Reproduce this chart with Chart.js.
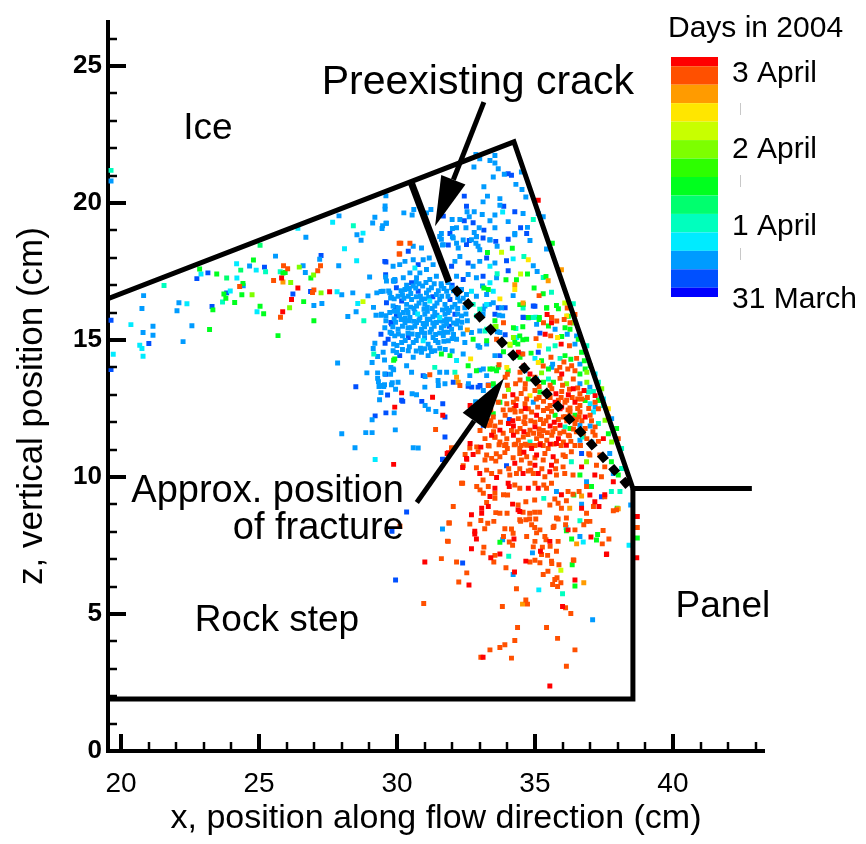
<!DOCTYPE html>
<html>
<head>
<meta charset="utf-8">
<title>Days in 2004</title>
<script src="https://cdn.jsdelivr.net/npm/chart.js@4.4.1/dist/chart.umd.min.js"></script>
<style>
  html, body { margin: 0; padding: 0; background: #fff; }
</style>
</head>
<body>
<canvas id="chart" width="866" height="844"></canvas>
<script>
// events: [x (cm), z (cm), colour level]  level 0 = 31 March ... 13 = 3 April
const iceSideEvents = [
  [19.64,21.19,4],[19.64,20.8,2],[29.6,20.26,2],[29.57,19.89,2],[29.57,19.77,2],[27.9,19.53,2],[27.67,19.3,3],[28.42,19.17,4],
  [29.2,19.48,2],[29.12,19.27,2],[29.6,19.26,2],[29.48,19.17,2],[28.55,18.84,2],[28.77,18.9,3],[28.7,18.64,2],[26.7,18.75,2],
  [26.41,19.08,3],[25.04,18.46,5],[28.1,18.33,3],[30.08,18.53,12],[30.08,18.14,12],[29.6,17.85,1],[28.54,17.89,3],[27.25,18.08,1],
  [27.2,17.95,2],[25.6,18.06,2],[24.8,17.92,6],[24.19,17.78,3],[24.66,17.7,2],[25.2,17.66,1],[24.9,17.55,3],[25.24,17.49,4],
  [24.34,17.55,5],[23.47,17.41,6],[23.83,17.26,5],[24.2,17.26,3],[23.15,17.45,1],[22.75,17.24,1],[22.9,17.41,3],[22.85,17.59,6],
  [25.89,17.71,12],[26.04,17.6,12],[25.77,17.49,4],[25.87,17.44,6],[25.95,17.46,6],[26.6,17.71,2],[26.46,17.66,8],[26.68,17.46,2],
  [27.23,17.71,12],[27.13,17.53,12],[26.98,17.37,8],[26.88,17.26,6],[27.89,17.71,2],[25.82,17.26,13],[25.53,17.17,12],[25.87,17.12,11],
  [26.15,17.1,8],[26.41,16.9,13],[24.42,17.06,6],[24.43,16.98,2],[24.3,16.95,12],[21.56,16.99,4],[23.96,16.79,3],[23.83,16.72,1],
  [23.73,16.68,6],[24.38,16.65,6],[24.75,16.65,8],[23.8,16.52,6],[24.12,16.37,6],[23.68,16.39,4],[26.23,16.68,1],[26.94,16.73,12],
  [26.99,16.83,12],[26.87,16.77,1],[27.25,16.72,8],[27.56,16.76,13],[27.83,16.76,3],[28.0,16.65,2],[28.4,16.72,2],[28.95,16.61,2],
  [29.27,16.72,2],[29.42,16.77,2],[29.7,16.79,2],[26.18,16.48,13],[26.62,16.4,6],[26.99,16.26,2],[27.28,16.33,2],[28.58,16.33,3],
  [28.77,16.4,9],[29.15,16.19,2],[28.52,16.03,2],[28.22,15.86,2],[28.8,15.7,4],[26.11,16.18,8],[25.86,16.03,13],[25.78,15.83,12],
  [25.04,16.23,6],[25.17,15.96,6],[24.93,16.03,3],[23.33,16.1,6],[23.3,16.22,1],[22.1,16.36,2],[22.39,16.32,3],[22.03,16.07,2],
  [20.82,16.62,2],[20.76,16.15,2],[19.64,15.72,1],[20.36,15.56,3],[21.16,15.5,2],[22.57,15.52,2],[23.21,15.38,6],[26.99,15.7,6],
  [25.69,15.16,6],[20.8,15.27,2],[21.16,15.17,2],[21.01,14.87,1],[22.25,14.94,2],[20.68,14.81,3],[20.76,14.69,3],[20.8,14.41,3],
  [19.72,14.48,3],[19.64,13.92,1],[27.85,14.16,2],[28.51,13.29,1],
  [29.59,17.3,2],[29.87,17.16,2],[29.93,17.16,1],[29.01,17.3,2],[29.77,16.53,2],[29.95,16.19,1],[30.02,16.03,2],[29.24,15.9,2],
  [29.42,15.9,2],[29.6,15.89,2],[29.78,15.64,1],[29.9,15.77,2],[29.42,15.21,1],[29.81,15.24,2],[29.57,14.88,1],[29.2,14.88,2],
  [29.88,14.85,2],[29.14,14.69,2],[29.16,14.49,4],[29.3,14.4,2],[29.55,14.27,2],[29.88,14.26,6],[29.1,14.18,2],[29.99,14.54,2],
  [29.78,14.0,2],[29.88,13.91,2],[28.91,13.8,2],[29.3,13.8,2],[29.59,13.75,1],[29.77,13.75,2],[29.3,13.6,2],[29.33,13.48,2],
  [29.35,13.3,2],[29.52,13.3,2],[29.8,13.37,2],[29.95,13.2,2]
];

const stepEvents = [
  [29.95,6.24,1],[30.35,8.72,1],[29.82,8.02,1],[30.11,8.2,12],[29.21,10.64,3],[29.88,10.46,13],[29.92,12.55,13],[28.0,11.58,2],
  [28.48,11.07,2],[28.87,11.62,2],[29.1,11.62,2],[29.1,12.09,2],[29.21,12.23,1],[29.6,12.34,1],[29.9,12.34,2],[29.94,11.72,2],
  [30.59,11.07,2],[29.66,12.99,1],[30.17,12.8,1],[29.42,13.08,2],[29.37,12.82,2],[29.55,13.37,2],[29.83,13.44,2],[30.55,13.04,2]
];

const upperFlankEvents = [
  [32.86,21.77,2],[33.55,21.73,2],[33.37,21.55,2],[33.0,21.61,2],[32.79,21.31,2],[33.55,21.46,2],[33.67,21.25,2],[33.89,21.05,2],
  [34.03,21.07,1],[34.15,21.01,1],[33.49,20.95,2],[34.51,21.13,2],[34.31,20.68,2],[33.15,20.59,2],[32.44,20.25,1],[33.28,20.25,2],
  [33.12,20.04,2],[34.53,20.49,2],[34.67,20.22,2],[35.12,20.1,13],[33.73,20.16,2],[33.73,19.92,2],[33.87,19.88,1],[31.23,19.76,2],
  [30.61,19.76,2],[30.55,19.56,2],[30.25,19.64,2],[31.07,19.64,2],[31.68,19.52,1],[32.54,19.68,2],[32.8,19.68,2],[32.52,19.88,1],
  [33.09,19.58,2],[33.55,19.56,2],[33.83,19.67,3],[34.27,19.68,1],[34.57,19.62,2],[34.94,19.4,4],[35.12,19.62,2],[35.3,19.5,2],
  [29.62,19.26,2],[29.46,19.07,2],[32.0,19.4,2],[32.28,19.4,2],[32.44,19.35,1],[32.62,19.5,2],[32.76,19.28,1],[32.01,19.07,2],
  [32.16,19.1,2],[32.5,19.1,2],[32.8,18.92,2],[32.98,19.1,2],[33.15,19.01,1],[33.37,19.35,2],[33.55,19.1,2],[34.03,19.32,2],
  [34.48,19.1,1],[34.73,19.11,2],[34.27,18.89,2],[34.7,18.89,1],[34.82,18.63,2],[35.42,18.32,2],[35.63,18.53,6],[30.14,18.53,12],
  [30.47,18.53,12],[30.1,18.14,12],[29.56,17.87,1],[29.59,17.38,1],[29.89,17.14,2],[31.61,18.89,2],[31.61,18.68,2],[31.92,18.89,1],
  [32.01,18.77,2],[31.65,18.47,2],[31.86,18.47,1],[32.16,18.53,2],[32.4,18.65,2],[32.62,18.63,1],[32.88,18.77,2],[32.86,18.53,2],
  [33.37,18.65,2],[33.58,18.6,1],[33.0,18.29,2],[33.28,18.19,6],[33.79,18.2,9],[33.97,17.89,1],[34.18,18.35,6],[34.21,17.96,3],
  [34.6,18.05,4],[34.76,17.93,10],[34.94,17.71,2],[35.08,17.5,2],[34.03,17.53,1],[34.48,17.41,9],[34.73,17.41,6],[34.33,17.2,6],
  [33.95,17.2,6],[33.63,17.42,4],[35.3,17.28,4],[35.4,17.32,6],[35.48,17.16,11],[35.96,17.56,11],[34.97,16.9,6],[35.15,16.62,12],
  [35.3,16.69,6],[35.6,16.74,4],[34.27,17.02,11],[34.27,16.84,10],[33.73,16.5,10],[34.21,16.62,2],[34.57,16.35,11],[34.57,16.17,4],
  [34.45,16.29,6],[35.0,16.23,1],[35.42,16.17,6],[35.78,16.26,6],[36.08,16.35,9],[36.17,16.17,12],[36.39,16.32,4],[35.44,15.93,13],
  [35.6,15.81,12],[35.6,15.63,13],[35.15,15.75,6],[35.03,15.83,3],[34.76,15.81,1],[34.57,15.83,1],[36.06,15.75,12],[36.21,15.87,6],
  [36.45,15.93,12],[36.39,15.63,6]
];

const crackEvents = [
  [30.41,18.24,1],[30.59,18.42,2],[30.89,18.36,2],[31.55,18.78,2],[31.68,18.48,2],[32.04,18.72,2],[32.22,18.36,2],[32.52,18.48,1],
  [32.7,18.66,2],[32.88,18.78,2],[32.94,18.42,2],[33.12,18.72,1],[33.37,18.66,2],[33.63,18.42,2],[34.03,18.68,1],[34.27,18.84,2],
  [29.86,17.69,2],[30.1,17.75,2],[30.29,17.87,2],[30.59,17.93,2],[30.77,17.75,1],[30.95,17.93,2],[31.17,17.99,2],[30.65,17.63,3],
  [30.47,17.45,2],[30.83,17.45,2],[31.07,17.57,2],[31.31,17.75,2],[31.98,17.69,1],[32.1,17.87,2],[32.28,18.05,2],[32.58,17.81,1],
  [32.76,17.69,2],[33.0,17.87,2],[33.25,17.99,1],[33.37,17.69,3],[33.55,17.81,2],
  [29.62,17.15,2],[29.92,17.21,2],[30.23,17.27,2],[30.53,17.09,1],[30.71,17.27,2],[31.19,17.21,2],[31.43,17.33,2],[32.16,17.33,2],
  [32.4,17.21,1],[32.58,17.39,2],[32.88,17.27,2],[33.12,17.33,1],[33.37,17.09,3],[33.61,17.27,2],[33.15,16.9,6],[33.31,16.84,6],
  [33.1,16.97,2],
  [29.5,16.78,2],[29.74,16.72,2],[29.98,16.91,1],[30.04,16.6,2],[30.29,16.84,2],[30.41,16.6,2],[30.59,16.97,2],[30.77,16.78,1],
  [30.93,16.97,2],[31.07,16.72,2],[31.25,16.91,2],[31.43,16.66,2],[31.61,16.97,2],[31.8,16.78,2],[31.98,16.91,2],[32.16,16.72,1],
  [32.34,16.84,2],[32.52,16.66,2],[32.7,16.78,3],[32.88,16.6,2],[33.25,16.66,2],[33.49,16.78,3],
  [29.62,16.36,1],[29.86,16.24,2],[30.17,16.42,1],[30.35,16.3,2],[30.53,16.48,2],[30.71,16.24,2],[30.89,16.48,2],[31.01,16.3,2],
  [31.19,16.42,3],[31.37,16.24,2],[31.55,16.48,2],[31.74,16.3,2],[31.92,16.48,1],[32.1,16.3,2],[32.28,16.42,2],[32.46,16.18,2],
  [32.76,16.3,4],[33.0,16.12,4],[33.19,16.24,2],[33.49,16.36,2],[33.79,16.18,2],
  [29.44,15.94,2],[29.74,16.0,2],[29.98,15.88,1],[30.23,16.0,2],[30.47,15.82,2],[30.65,16.0,2],[30.83,15.82,2],[31.01,15.94,2],
  [31.19,15.76,2],[31.37,16.0,2],[31.55,15.82,3],[31.74,15.94,2],[31.92,15.76,2],[32.1,15.94,1],[32.34,15.88,2],[32.55,15.7,2],
  [32.88,15.88,4],[33.12,15.94,2],[33.55,15.7,6],[33.7,15.9,2],
  [29.56,15.45,2],[29.8,15.58,1],[30.04,15.39,2],[30.29,15.64,2],[30.53,15.45,2],[30.71,15.64,2],[30.89,15.39,2],[31.07,15.58,2],
  [31.25,15.39,2],[31.43,15.64,2],[31.61,15.45,2],[31.8,15.58,2],[31.98,15.39,2],[32.16,15.58,2],[32.55,15.37,11],[32.7,15.27,2],
  [33.0,15.33,2],[33.25,15.39,4],[33.55,15.48,8],[33.73,15.27,2],
  [29.68,15.03,1],[29.92,15.15,2],[30.17,14.91,2],[30.41,15.09,1],[30.59,14.91,2],[30.77,15.15,2],[30.95,14.97,3],[31.13,14.85,2],
  [31.31,15.09,2],[31.49,14.91,2],[31.68,15.15,2],[31.86,14.97,2],[32.16,15.03,2],[32.46,14.91,2],[32.76,15.03,6],[32.94,14.79,2],
  [33.25,14.97,6],[33.61,15.03,12],[34.09,14.85,9],[34.27,14.91,6],[34.45,15.15,6],[34.7,15.03,6],
  [29.5,14.55,2],[29.86,14.61,2],[30.1,14.43,1],[30.41,14.61,2],[30.59,14.37,2],[30.89,14.55,2],[31.13,14.43,2],[31.37,14.61,2],
  [31.61,14.49,6],[31.92,14.43,6],[32.16,14.25,3],[32.4,14.49,2],[32.67,14.31,10],[33.0,14.73,2],[33.37,13.94,6],[33.67,14.0,6],
  [34.03,13.88,6],[34.33,14.43,6],[34.52,14.49,2],
  [29.56,13.76,2],[29.86,13.94,2],[29.92,14.31,6],[30.35,14.06,2],[30.53,13.82,2],[30.95,13.7,1],[31.19,13.73,12],[31.37,14.0,4],
  [31.55,13.82,2],[31.8,13.82,2],[32.1,13.82,4],[32.22,13.46,11],[32.28,13.34,12],[32.58,14.06,6],[32.64,13.7,2],[32.88,13.88,6],
  [33.0,13.9,2],[33.25,13.7,2],
  [29.5,13.34,2],[30.04,13.46,2],[31.01,13.28,2],[31.49,13.52,2],[31.74,13.4,2],[32.58,13.31,1],[32.94,13.28,1],[33.31,13.34,12],
  [33.49,13.4,6]
];

const crackCoreEvents = [
  [30.35,16.1,2],[30.62,16.15,2],[30.98,16.12,2],[31.28,16.15,2],[31.65,16.1,2],[31.9,16.08,2],[30.5,16.7,2],[30.85,16.6,2],
  [31.15,16.55,2],[31.5,16.8,2],[31.85,16.6,2],[30.4,15.25,2],[30.75,15.2,2],[31.0,15.25,2],[31.4,15.2,2],[31.7,15.28,2],
  [30.3,15.8,2],[30.62,15.68,2],[30.95,15.6,2],[31.3,15.85,2],[31.65,15.7,2],[32.0,16.2,2],[32.2,15.7,2],[30.2,16.65,2],
  [31.05,17.1,2],[31.6,17.05,2],[30.8,17.05,2],[30.45,14.75,2],[30.85,14.7,2],[31.2,14.72,2],[31.55,14.7,2],[30.2,15.15,2],
  [29.9,16.5,2],[30.0,14.8,2],
  [30.35,17.0,2],[30.7,17.12,2],[31.35,17.05,2],[31.85,17.1,2],[32.0,17.0,1],
  [30.15,16.8,2],[30.45,16.88,2],[30.68,16.9,2],[31.15,16.82,2],[31.7,16.88,2],[32.05,16.8,2],
  [29.8,16.55,2],[30.25,16.52,2],[30.7,16.58,2],[31.0,16.5,2],[31.3,16.58,1],[31.62,16.6,2],[32.2,16.55,2],[32.4,16.52,2],
  [30.05,16.18,2],[30.5,16.2,2],[30.8,16.35,2],[31.1,16.2,2],[31.45,16.35,2],[31.8,16.15,2],[32.2,16.15,2],[32.6,16.3,2],
  [29.9,16.05,2],[30.1,15.92,2],[30.4,16.0,2],[30.75,15.95,3],[31.1,16.05,2],[31.45,15.9,2],[31.85,16.0,2],[32.2,15.95,2],
  [32.5,15.95,2],[29.6,15.7,2],[29.95,15.65,2],[30.15,15.75,2],[30.45,15.7,2],[30.8,15.72,2],[31.1,15.75,2],[31.3,15.62,2],
  [31.55,15.7,2],[31.8,15.75,2],[32.05,15.62,2],[32.35,15.65,2],
  [29.85,15.48,2],[30.2,15.5,2],[30.4,15.45,2],[30.65,15.5,2],[31.0,15.48,2],[31.35,15.5,2],[31.7,15.52,2],[31.9,15.5,1],
  [32.3,15.45,2],[29.75,15.28,2],[30.05,15.22,2],[30.55,15.22,2],[30.9,15.28,2],[31.2,15.28,2],[31.55,15.25,2],[31.85,15.28,2],
  [32.05,15.2,2],[32.4,15.22,2],[30.3,14.98,2],[30.7,14.98,2],[31.0,15.08,2],[31.4,14.98,2],[31.7,14.95,2],[32.0,15.05,2],
  [30.2,14.65,2],[30.7,14.6,2],[31.0,14.68,2],[31.25,14.58,2],[31.75,14.65,2],[32.0,14.6,2]
];

const fractureEvents = [
  [33.25,16.3,3],[33.35,16.3,2],[33.67,16.18,1],[33.92,16.18,1],[34.58,16.3,6],[34.94,16.24,1],[35.43,16.18,6],[35.85,16.14,6],
  [33.13,16.12,2],[33.55,15.94,1],[33.83,15.88,2],[34.58,15.82,1],[34.76,15.82,6],[34.94,15.82,4],[35.16,15.82,6],[35.61,15.82,12],
  [36.15,15.88,10],[33.59,15.49,8],[33.86,15.63,12],[34.22,15.45,6],[34.31,15.42,4],[34.56,15.48,6],[35.06,15.57,2],[35.31,15.63,12],
  [35.49,15.51,6],[35.79,15.69,12],[36.27,15.63,12],[36.09,15.45,6],
  [33.19,15.33,4],[33.64,15.3,2],[33.92,15.19,1],[34.22,15.09,8],[34.34,15.09,3],[34.56,15.01,6],[35.04,15.05,12],[35.18,15.25,1],
  [35.37,15.21,13],[35.57,15.15,12],[35.82,15.09,10],[35.97,15.13,6],[36.17,15.21,2],[35.73,15.39,2],[36.27,15.39,6],[33.25,14.85,2],
  [33.86,14.57,6],[34.1,14.81,8],[34.38,14.85,6],[34.4,14.55,13],[34.56,14.49,12],[34.86,14.52,6],[35.12,14.55,1],[35.16,14.79,10],
  [35.49,14.67,4],[35.73,14.79,4],[35.95,14.85,13],[36.25,14.79,12],[36.45,14.85,2],[36.57,15.03,6],
  [33.55,14.43,2],[33.73,14.43,1],[34.22,14.37,4],[34.46,14.37,6],[35.0,14.33,3],[35.12,14.18,10],[35.24,14.24,6],[35.58,14.37,12],
  [35.64,14.12,2],[35.91,14.33,4],[36.09,14.43,6],[36.3,14.3,6],[36.51,14.33,12],[36.79,14.24,6],[33.13,13.94,2],[33.47,13.94,6],
  [33.61,13.88,6],[33.98,14.0,10],[34.46,13.82,12],[34.64,13.88,2],[34.82,13.76,13],[35.0,13.64,12],[35.24,13.8,8],[35.49,13.94,6],
  [35.61,14.0,2],[35.79,13.88,12],[35.97,13.76,13],[36.19,13.94,12],[36.33,14.06,12],[36.45,13.88,12],[36.63,14.12,2],[36.82,13.94,6],
  [36.88,13.82,8],[36.63,13.76,6],
  [33.31,13.36,1],[33.49,13.34,4],[33.92,13.64,12],[34.46,13.54,12],[34.76,13.58,6],[35.06,13.58,3],[35.31,13.46,6],[35.49,13.58,4],
  [35.67,13.46,6],[35.91,13.6,12],[36.15,13.4,8],[36.39,13.58,12],[36.63,13.4,2],[36.88,13.46,8],[36.99,13.28,2],[37.12,13.12,4],
  [33.13,13.16,2],[33.73,12.73,6],[34.04,13.19,8],[34.34,12.85,12],[34.64,13.22,12],[34.82,12.97,10],[35.0,13.16,12],[35.18,13.1,6],
  [35.37,13.04,12],[35.61,13.22,12],[35.76,13.04,13],[35.97,13.12,12],[36.21,13.0,13],[36.39,13.22,13],[36.63,13.04,12],[36.78,13.16,13],
  [36.94,13.1,4],[37.18,12.97,13],[37.3,12.79,6],
  [33.37,12.61,6],[33.67,12.73,12],[33.98,12.67,12],[34.22,12.73,12],[34.31,12.61,13],[34.64,12.67,12],[34.76,12.49,12],[34.94,12.73,2],
  [35.31,12.76,12],[35.55,12.61,12],[35.73,12.73,13],[35.97,12.55,13],[36.09,12.73,12],[36.27,12.52,12],[36.45,12.73,13],[36.63,12.61,12],
  [36.82,12.79,6],[37.0,12.67,3],[37.18,12.73,12],[37.36,12.85,4],[37.18,12.55,2],[33.13,12.25,12],[33.49,12.19,12],[33.92,12.25,12],
  [34.07,12.1,1],[34.28,12.37,12],[34.4,12.13,12],[34.64,12.19,12],[34.88,12.37,12],[35.06,12.25,13],[35.31,12.43,12],[35.49,12.19,12],
  [35.73,12.25,6],[35.91,12.49,13],[36.03,12.19,12],[36.27,12.37,12],[36.45,12.25,6],[36.63,12.37,12],[36.82,12.19,13],[37.0,12.25,12],
  [37.12,12.37,3],[37.3,12.49,12],[37.48,12.61,4],
  [33.25,11.89,12],[33.55,11.86,12],[33.73,11.71,13],[34.04,11.95,13],[34.22,11.86,13],[34.46,11.77,12],[34.64,11.95,12],[34.82,11.71,12],
  [35.0,11.83,13],[35.16,11.58,12],[35.31,11.95,12],[35.55,11.86,13],[35.73,11.77,12],[35.91,11.89,13],[36.09,11.83,4],[36.27,11.77,6],
  [36.45,11.95,12],[36.63,11.89,2],[36.82,11.77,12],[37.0,11.86,2],[37.18,11.83,12],[37.3,11.95,4],[37.54,12.07,8],[37.66,12.19,12],
  [33.19,11.4,12],[33.43,11.52,13],[33.73,11.28,12],[33.98,11.4,12],[34.22,11.52,13],[34.4,11.34,12],[34.58,11.46,12],[34.82,11.28,4],
  [35.06,11.4,12],[35.24,11.5,12],[35.43,11.34,12],[35.61,11.52,12],[35.85,11.4,13],[36.03,11.28,12],[36.21,11.52,12],[36.63,11.34,2],
  [36.75,11.46,4],[36.88,11.4,12],[37.06,11.28,2],[37.18,11.52,12],[37.48,11.4,13],[37.66,11.58,6],[37.78,11.28,8],
  [37.0,14.06,6],[37.18,13.76,3],[37.3,13.46,4],[37.42,13.22,8],[37.48,12.85,3],[37.66,12.49,10],[37.78,12.13,2],[37.96,11.77,6],
  [38.02,11.4,12],[38.14,11.04,4],[36.69,14.55,6],[36.88,14.79,4],[36.51,15.15,2],[36.39,15.63,8]
];

const fractureCoreEvents = [
  [34.1,12.45,12],[34.5,12.4,12],[34.85,12.05,12],[35.2,12.1,12],[35.6,12.4,12],[35.85,12.1,12],[36.15,12.05,12],[36.5,12.1,12],
  [34.35,11.65,12],[34.75,11.55,12],[35.15,11.75,12],[35.45,11.62,12],[35.9,11.6,12],[36.25,11.5,12],[36.5,11.65,12],[33.9,11.15,12],
  [34.3,11.2,12],[34.65,11.2,12],[35.0,11.15,12],[35.3,11.15,12],[35.7,11.2,12],[36.1,10.75,12],[34.05,10.3,12],[34.45,10.3,12],
  [34.85,10.25,12],[35.25,10.3,12],[35.75,10.3,12],[33.6,10.85,12],[34.6,10.9,13],[35.0,10.7,12],[36.45,11.15,12],[36.95,10.85,12],
  [36.7,12.85,12],[36.35,12.9,12],[35.95,12.9,12],[35.55,12.9,12],[35.15,12.9,12],[34.5,13.05,12],[36.0,13.35,12],[36.6,12.2,12],
  [33.4,12.05,12],[33.75,12.0,12],[34.2,12.05,13],[34.6,12.02,12],[35.0,12.0,12],[35.4,12.05,12],[35.7,12.0,13],[36.1,12.2,12],
  [36.35,12.15,12],[36.7,12.05,12],[37.05,12.05,12],[33.4,12.45,12],[33.85,12.45,12],[34.25,12.5,12],[34.65,12.5,13],[35.1,12.55,12],
  [35.45,12.5,12],[35.8,12.55,12],[36.2,12.45,12],[36.55,12.5,12],[36.95,12.5,12],[33.55,13.0,12],[33.9,12.95,12],[34.2,13.0,13],
  [34.7,12.85,12],[35.05,12.85,12],[35.45,12.95,12],[35.85,12.8,12],[36.15,12.8,12],[36.55,12.85,12],[36.9,12.9,12],[34.0,13.35,12],
  [34.3,13.4,12],[34.65,13.4,12],[35.15,13.3,12],[35.55,13.35,12],[36.25,13.2,12],[36.55,13.25,12],[33.5,11.65,12],[33.85,11.6,12],
  [34.15,11.7,12],[34.6,11.65,13],[34.95,11.6,12],[35.3,11.7,12],[35.65,11.65,12],[36.05,11.65,12],[36.4,11.75,12],[36.75,11.6,12],
  [37.1,11.65,12],[33.55,11.45,12],[33.95,11.2,12],[34.5,11.15,12],[34.85,11.15,12],[35.2,11.22,12],[35.55,11.2,13],[35.95,11.15,12],
  [36.3,11.3,12],[36.65,11.15,12],[37.3,11.3,12],[33.7,14.1,12],[34.0,13.75,12],[34.6,14.05,13],[35.3,14.05,12],[35.9,14.0,12],
  [36.05,14.2,12]
];

const lowerEvents = [
  [30.17,13.07,13],[30.21,12.76,1],[30.71,13.0,2],[30.9,12.76,1],[31.02,12.61,2],[31.29,12.91,13],[31.66,12.67,1],[31.41,12.39,2],
  [31.14,12.47,2],[31.74,12.19,1],[31.66,12.25,13],[30.77,11.06,2],[31.4,11.73,12],[31.74,11.46,1],[31.66,10.65,1],[31.98,11.06,12],
  [31.86,10.89,13],[32.53,10.65,13],[32.38,10.35,13],[32.47,10.82,12],[31.02,13.67,2],[31.5,13.34,2],[32.04,13.46,1],[32.16,13.64,11],
  [32.59,13.4,2],[32.71,13.28,1],[33.01,13.34,1],[32.65,12.61,13],[32.85,12.75,2],[33.49,12.31,6],[33.13,11.89,1],[33.37,11.89,12],
  [33.01,11.7,12],[33.55,11.46,12],[32.65,11.22,13],[32.89,11.1,12],[33.31,11.15,12],
  [31.98,11.06,12],[32.64,11.06,12],[33.04,11.09,13],[33.34,11.13,12],[33.7,11.18,12],[34.0,11.04,12],[34.25,11.18,12],[34.45,11.04,12],
  [34.7,11.16,12],[34.88,11.04,13],[35.18,11.18,13],[35.48,11.04,12],[35.78,11.22,13],[36.14,11.16,13],
  [31.82,10.86,13],[32.76,10.82,13],[32.94,10.92,12],[33.25,10.8,12],[33.73,10.74,12],[33.91,10.89,12],[34.21,10.7,12],[34.45,10.86,12],
  [34.7,10.74,12],[35.06,10.8,13],[35.36,10.86,12],[35.66,10.74,13],[36.02,10.8,12],[36.32,10.92,12],[36.69,10.86,1],[36.99,10.8,12],
  [37.35,10.8,12],[37.71,10.86,2],[31.65,10.64,1],[32.52,10.68,13],[33.19,10.62,12],[33.43,10.68,12],[33.58,10.58,12],[33.97,10.41,1],
  [34.27,10.5,13],[34.51,10.62,12],[34.82,10.5,12],[35.0,10.43,13],[35.3,10.62,12],[35.6,10.43,13],[35.78,10.58,12],[36.02,10.37,12],
  [36.32,10.56,4],[36.69,10.37,13],[36.87,10.56,8],[37.23,10.43,12],[37.53,10.37,12],[37.77,10.56,6],[38.14,10.31,4],
  [32.4,10.41,12],[32.88,10.34,12],[33.0,10.13,13],[33.25,10.25,12],[33.43,10.13,12],[33.61,9.98,13],[33.73,10.19,12],[34.09,10.07,12],
  [34.33,10.13,12],[34.57,10.13,13],[34.76,10.22,12],[34.94,10.13,12],[35.12,10.13,13],[35.36,10.01,12],[35.54,10.19,13],[35.78,10.07,12],
  [36.08,10.13,12],[36.38,10.07,12],[36.63,10.07,6],[36.87,9.83,2],[37.17,10.07,13],[37.41,10.01,12],[37.84,10.13,2],[38.02,10.07,6],
  [32.38,9.77,12],[33.12,9.89,12],[33.31,9.65,12],[33.55,9.59,13],[33.55,9.41,12],[34.03,9.77,13],[34.07,9.65,13],[34.27,9.71,12],
  [34.45,9.59,12],[34.76,9.59,13],[35.0,9.77,12],[35.12,9.59,13],[35.32,9.71,12],[35.42,9.59,12],[35.6,9.77,12],[35.78,9.47,2],
  [35.96,9.35,13],[36.2,9.47,12],[36.38,9.37,12],[36.6,9.47,12],[36.87,9.65,12],[37.05,9.65,6],[37.53,9.35,13],[37.77,9.47,4],
  [37.84,9.83,13],[38.08,9.47,4],[32.34,9.77,12],[32.89,9.65,12],[33.13,9.41,12],[33.86,9.35,12],[33.01,9.53,12],
  [33.37,9.29,13],[33.55,9.22,12],[34.01,9.34,12],[34.19,9.01,13],[34.39,8.98,12],[34.67,9.1,12],[34.99,9.16,12],[35.32,9.22,4],
  [35.72,9.2,12],[35.84,9.04,12],[36.14,9.13,12],[36.41,9.34,6],[36.69,9.31,11],[36.69,9.01,2],[36.99,9.34,13],[37.17,9.1,13],
  [37.32,8.92,13],[37.41,9.28,1],[37.53,9.28,12],[33.25,9.07,12],[32.04,8.92,12],[33.07,8.86,13],[33.31,8.92,13],[33.58,8.7,12],
  [33.73,8.68,12],[33.99,8.68,12],[34.39,8.8,13],[34.45,8.74,13],[34.57,8.71,12],[34.81,8.68,12],[34.99,8.71,12],[35.17,8.71,12],
  [35.54,8.98,12],[35.78,8.5,12],[35.96,8.86,12],[36.14,8.5,12],[36.26,8.86,11],[36.69,8.86,13],[36.87,8.68,12],[37.12,8.92,12],
  [37.84,8.77,12],[37.96,8.8,12],[37.98,8.86,6],[38.02,8.84,11],[38.47,8.98,2],
  [32.7,8.62,13],[33.07,8.68,13],[33.04,8.41,12],[33.29,8.31,12],[33.51,8.38,12],[32.64,8.28,12],[33.18,8.11,12],[33.91,8.11,12],
  [34.15,8.1,12],[34.45,8.44,12],[34.67,8.44,12],[34.81,8.47,12],[34.99,8.16,12],[35.18,8.07,12],[35.03,8.47,12],[35.66,8.16,12],
  [35.84,8.47,12],[36.11,8.26,12],[36.2,8.07,13],[36.45,8.07,12],[36.14,8.04,6],[36.63,8.4,4],[36.77,8.26,12],[36.99,8.38,12],
  [37.47,8.05,12],[36.13,8.16,3],[34.48,8.38,12],[34.88,8.26,12],[35.69,8.2,12],[36.87,8.38,12],
  [32.82,8.02,13],[32.82,7.92,13],[32.88,7.74,13],[33.73,7.62,6],[33.83,7.71,2],[34.07,7.63,12],[34.21,7.95,12],[34.24,7.74,13],
  [34.7,7.83,12],[35.0,7.65,12],[35.36,7.83,12],[35.4,7.71,12],[35.54,7.65,13],[35.84,7.65,12],[36.33,7.74,6],[36.51,7.56,11],
  [36.63,7.83,2],[36.75,7.63,3],[37.03,7.81,13],[37.27,7.9,6],[37.23,7.7,6],[37.44,7.56,12],[37.68,7.74,12],[38.41,7.51,3],
  [31.88,8.32,12],[31.65,8.1,2],[31.83,7.66,12],[31.86,7.65,12],[31.9,8.32,12],[33.86,7.83,12],[35.06,7.96,12],[35.55,7.47,12],
  [38.71,8.56,13],[38.71,8.16,12],[38.71,7.77,6],[38.69,7.05,13],[37.6,7.19,13],
  [32.7,7.38,13],[33.15,7.44,12],[33.12,7.23,12],[33.4,7.05,13],[33.51,6.9,12],[33.73,7.19,13],[33.55,7.14,12],[34.05,7.11,4],
  [34.19,7.51,12],[34.94,7.45,12],[35.2,7.29,13],[35.27,7.44,12],[35.46,7.14,12],[34.91,7.23,2],[34.67,6.93,13],[34.82,6.9,12],
  [35.0,6.96,12],[35.24,7.17,12],[35.6,6.93,12],[35.78,7.29,12],[35.87,6.8,12],[36.41,6.96,12],[36.35,6.8,6],[37.59,7.17,13],
  [31.01,6.9,13],[31.61,7.02,12],[32.16,6.9,12],[32.38,6.86,1],[32.53,6.5,12],[33.95,6.69,12],[34.26,6.53,13],[34.21,6.44,2],
  [35.3,6.44,12],[35.47,6.56,12],[35.94,6.6,9],[35.72,6.26,12],[35.8,6.32,12],[35.18,6.87,12],[35.61,6.84,12],[36.39,6.97,12],
  [32.24,6.17,12],[32.61,6.06,13],[34.33,5.92,12],[35.14,5.88,3],[35.64,6.08,12],[35.82,6.0,12],[35.94,6.14,12],[36.45,6.24,13],
  [36.45,6.02,6],[36.77,6.14,11],[36.0,5.74,4],[33.82,5.27,12],[34.67,5.51,12],[34.55,5.36,11],[34.73,5.36,12],[36.0,5.27,13],
  [36.11,5.23,12],[36.3,5.02,12],[30.97,5.38,12],
  [37.09,4.79,2],[34.37,4.51,12],[35.42,4.51,12],[34.27,4.03,12],[33.91,3.88,12],[33.73,3.78,12],[33.37,3.69,12],[33.04,3.42,12],
  [33.12,3.42,13],[34.15,3.39,12],[35.82,4.11,12],[36.45,3.69,12],[36.14,3.09,12],[35.54,2.37,13]
];

// colour levels, 31 March (0) to 3 April (13)
const levelColors = ['#0000ff', '#0050ff', '#009bff', '#00ebff', '#00ffbe', '#00ff6e', '#00ff1e',
  '#2dff00', '#7dff00', '#c8ff00', '#ffe600', '#ff9b00', '#ff5000', '#ff0000'];
const colorbarLabels = ['3 April', '2 April', '1 April', '31 March'];

const xTickValues = [20, 25, 30, 35, 40];
const yTickValues = [0, 5, 10, 15, 20, 25];

// outlines of ice, rock step and panel, and the crack (cm)
const iceOutline = [{x: 19.53, y: 16.51}, {x: 34.24, y: 22.23}, {x: 38.55, y: 9.58}, {x: 42.86, y: 9.58}];
const rockOutline = [{x: 19.53, y: 1.9}, {x: 38.55, y: 1.9}, {x: 38.55, y: 9.58}];
const crackSolid = [{x: 30.53, y: 20.71}, {x: 31.88, y: 17.12}];
const crackDotted = [{x: 31.88, y: 17.12}, {x: 38.44, y: 9.6}];

const FONT = '"Liberation Sans", Arial, Helvetica, sans-serif';

const allEvents = [...iceSideEvents, ...stepEvents, ...upperFlankEvents, ...crackEvents, ...crackCoreEvents,
  ...fractureEvents, ...fractureCoreEvents, ...lowerEvents];

const eventSets = levelColors.map(function (color, level) {
    return {
        data: allEvents.filter((e) => e[2] === level).map((e) => ({x: e[0], y: e[1]})),
        pointStyle: "rect",
        pointRadius: 3.5,
        pointBackgroundColor: color,
        pointBorderWidth: 0,
        showLine: false,
        order: 20 - level,
    };
});

function outline(data, width, dash) {
    return {
        data: data,
        showLine: true,
        borderColor: "#000",
        borderWidth: width,
        borderDash: dash || [],
        borderDashOffset: dash ? 9 : 0,
        borderCapStyle: "butt",
        borderJoinStyle: "miter",
        pointRadius: 0,
        order: 0,
    };
}

function drawArrow(ctx, x0, y0, x1, y1, headLen, headHalf, lw) {
    const a = Math.atan2(y1 - y0, x1 - x0);
    const bx = x1 - headLen * Math.cos(a);
    const by = y1 - headLen * Math.sin(a);
    ctx.lineWidth = lw;
    ctx.beginPath();
    ctx.moveTo(x0, y0);
    ctx.lineTo(bx, by);
    ctx.stroke();
    ctx.beginPath();
    ctx.moveTo(x1, y1);
    ctx.lineTo(bx + headHalf * Math.sin(a), by - headHalf * Math.cos(a));
    ctx.lineTo(bx - headHalf * Math.sin(a), by + headHalf * Math.cos(a));
    ctx.closePath();
    ctx.fill();
}

const decor = {
    id: "decor",
    afterDraw(chart) {
        const {ctx, chartArea: area, scales: {x, y}} = chart;
        const px = (v) => x.getPixelForValue(v);
        const py = (v) => y.getPixelForValue(v);
        ctx.save();
        ctx.strokeStyle = "#000";
        ctx.fillStyle = "#000";

        // inward ticks
        for (let v = Math.ceil(x.min); v <= x.max; v++) {
            const major = xTickValues.includes(v);
            const p = Math.round(px(v));
            ctx.lineWidth = major ? 4 : 2.5;
            ctx.beginPath();
            ctx.moveTo(p, area.bottom);
            ctx.lineTo(p, area.bottom - (major ? 17 : 9));
            ctx.stroke();
        }
        for (let v = Math.ceil(y.min); v <= y.max; v++) {
            const major = yTickValues.includes(v);
            const p = Math.round(py(v));
            ctx.lineWidth = major ? 4 : 2.5;
            ctx.beginPath();
            ctx.moveTo(area.left, p);
            ctx.lineTo(area.left + (major ? 18 : 9), p);
            ctx.stroke();
        }

        // arrows
        ctx.lineCap = "butt";
        drawArrow(ctx, px(33.15), py(23.68), px(31.38), py(19.15), 50, 13, 5);
        drawArrow(ctx, px(30.72), py(9.07), px(33.88), py(13.6), 52, 14, 5);

        // labels inside the plot
        ctx.textBaseline = "alphabetic";
        ctx.font = "37px " + FONT;
        ctx.textAlign = "center";
        ctx.fillText("Ice", px(23.15), py(22.34));
        ctx.fillText("Rock step", px(25.65), py(4.39));
        ctx.fillText("Panel", px(41.81), py(4.9));
        ctx.font = "41px " + FONT;
        ctx.fillText("Preexisting crack", px(32.93), py(23.98));
        ctx.font = "38px " + FONT;
        ctx.textAlign = "right";
        ctx.fillText("Approx. position", px(30.25), py(9.1));
        ctx.fillText("of fracture", px(30.25), py(7.73));

        // axis titles
        ctx.font = "34px " + FONT;
        ctx.textAlign = "center";
        ctx.fillText("x, position along flow direction (cm)", (area.left + area.right) / 2, 828);
        ctx.save();
        ctx.translate(42, 406);
        ctx.rotate(-Math.PI / 2);
        ctx.font = "35px " + FONT;
        ctx.fillText("z, vertical position (cm)", 0, 0);
        ctx.restore();

        // colour bar
        const barLeft = 671, barTop = 57, barW = 47, barH = 240;
        const unit = barH / (levelColors.length - 1);
        for (let i = 0; i < levelColors.length; i++) {
            const y0 = barTop + Math.max(0, (i - 0.5) * unit);
            const y1 = barTop + Math.min(barH, (i + 0.5) * unit);
            ctx.fillStyle = levelColors[levelColors.length - 1 - i];
            ctx.fillRect(barLeft, y0, barW, y1 - y0);
        }
        ctx.fillStyle = "#000";
        ctx.textAlign = "left";
        ctx.font = "30px " + FONT;
        ctx.fillText("Days in 2004", 668, 37);
        const labelBase = [82, 158, 235, 308];
        colorbarLabels.forEach((t, i) => ctx.fillText(t, 732, labelBase[i]));
        ctx.strokeStyle = "#c8c8c8";
        ctx.lineWidth = 1;
        [[103, 115], [175, 187], [248, 260]].forEach(function (s) {
            ctx.beginPath();
            ctx.moveTo(740.5, s[0]);
            ctx.lineTo(740.5, s[1]);
            ctx.stroke();
        });
        ctx.restore();
    },
};

const chart = new Chart(document.getElementById("chart"), {
    type: "scatter",
    data: {
        datasets: [
            outline(iceOutline, 5),
            outline(rockOutline, 5),
            outline(crackSolid, 7),
            outline(crackDotted, 8, [9, 8]),
            ...eventSets,
        ],
    },
    options: {
        responsive: false,
        devicePixelRatio: 1,
        animation: false,
        events: [],
        layout: {padding: {left: 0, top: 17, right: 102, bottom: 0}},
        plugins: {legend: {display: false}, tooltip: {enabled: false}},
        scales: {
            x: {
                type: "linear",
                min: 19.53,
                max: 43.3,
                grid: {display: false, drawTicks: false, tickLength: 0},
                border: {display: true, color: "#000", width: 4},
                afterBuildTicks: (scale) => {
                    scale.ticks = xTickValues.map((v) => ({value: v}));
                },
                afterFit: (scale) => {
                    scale.height = 93;
                },
                ticks: {
                    color: "#000",
                    padding: 16,
                    maxRotation: 0,
                    autoSkip: false,
                    font: {family: FONT, size: 28},
                },
            },
            y: {
                type: "linear",
                min: 0,
                max: 26.62,
                grid: {display: false, drawTicks: false, tickLength: 0},
                border: {display: true, color: "#000", width: 4},
                afterBuildTicks: (scale) => {
                    scale.ticks = yTickValues.map((v) => ({value: v}));
                },
                afterFit: (scale) => {
                    scale.width = 108;
                },
                ticks: {
                    color: "#000",
                    padding: 6,
                    autoSkip: false,
                    font: {family: FONT, size: 26, weight: "bold"},
                },
            },
        },
    },
    plugins: [decor],
});
</script>
</body>
</html>
